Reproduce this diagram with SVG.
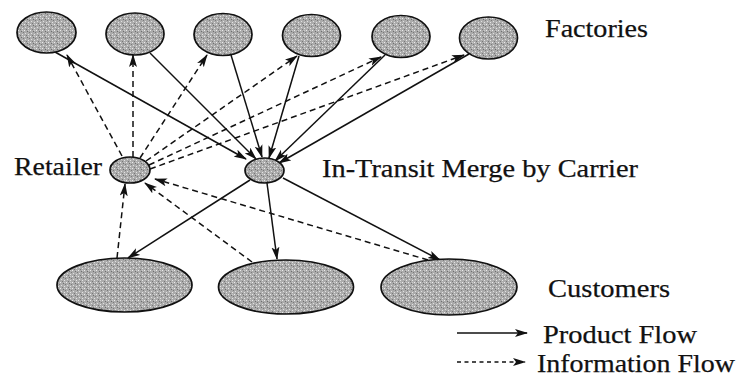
<svg xmlns="http://www.w3.org/2000/svg" width="740" height="383" viewBox="0 0 740 383">
  <style>
    .node { stroke: #111; stroke-width: 1.7; fill: url(#stipple); }
    .label { font-family: "Liberation Serif", "Times New Roman", serif; font-size: 26px; fill: #111; stroke: #111; stroke-width: 0.25; }
    .product { stroke: #111; stroke-width: 1.5; fill: none; marker-end: url(#head); }
    .info { stroke: #111; stroke-width: 1.5; fill: none; stroke-dasharray: 6 4; marker-end: url(#head); }
    .info-key { stroke-dasharray: 4 3.5; }
  </style>
  <defs>
    <!-- grainy gray fill for the nodes -->
    <pattern id="stipple" width="6" height="6" patternUnits="userSpaceOnUse">
      <rect width="6" height="6" fill="#ababab"/>
      <rect x="0" y="0" width="1" height="1" fill="#ececec"/>
      <rect x="3" y="1" width="1" height="1" fill="#6e6e6e"/>
      <rect x="1" y="3" width="1" height="1" fill="#e0e0e0"/>
      <rect x="4" y="4" width="1" height="1" fill="#e4e4e4"/>
      <rect x="5" y="2" width="1" height="1" fill="#7a7a7a"/>
      <rect x="2" y="5" width="1" height="1" fill="#787878"/>
      <rect x="4" y="0" width="1" height="1" fill="#cccccc"/>
    </pattern>
    <marker id="head" viewBox="0 0 13 9" refX="12" refY="4.5" markerWidth="13" markerHeight="9" markerUnits="userSpaceOnUse" orient="auto">
      <path d="M0,0.5 L13,4.5 L0,8.5 L3,4.5 z" fill="#111"/>
    </marker>
  </defs>

  <!-- connectors -->
  <g id="connectors">
    <!-- product flow: factories to the carrier merge point -->
    <line class="product" x1="55" y1="52" x2="246" y2="159"/>
    <line class="product" x1="150" y1="53" x2="256" y2="159"/>
    <line class="product" x1="231" y1="55" x2="262" y2="157"/>
    <line class="product" x1="299" y1="56" x2="269" y2="158"/>
    <line class="product" x1="385" y1="55" x2="275" y2="161"/>
    <line class="product" x1="469" y1="54" x2="279" y2="163"/>
    <!-- product flow: merge point to customers -->
    <line class="product" x1="250" y1="180" x2="128" y2="258"/>
    <line class="product" x1="267" y1="183" x2="277" y2="259"/>
    <line class="product" x1="283" y1="178" x2="440" y2="260"/>
    <!-- information flow: retailer to factories -->
    <line class="info" x1="122" y1="156" x2="67" y2="55"/>
    <line class="info" x1="133" y1="157" x2="133" y2="55"/>
    <line class="info" x1="140" y1="158" x2="207" y2="55"/>
    <line class="info" x1="146" y1="161" x2="297" y2="56"/>
    <line class="info" x1="149" y1="165" x2="381" y2="57"/>
    <line class="info" x1="150" y1="169" x2="464" y2="55"/>
    <!-- information flow: customers to retailer -->
    <line class="info" x1="117" y1="258" x2="125" y2="184"/>
    <line class="info" x1="252" y1="262" x2="145" y2="183"/>
    <line class="info" x1="428" y1="260" x2="155" y2="179"/>
  </g>

  <!-- factories -->
  <g id="factory-1"><ellipse class="node" cx="46.5" cy="32.5" rx="29.5" ry="20.5"/></g>
  <g id="factory-2"><ellipse class="node" cx="135" cy="34" rx="29" ry="21"/></g>
  <g id="factory-3"><ellipse class="node" cx="223" cy="34.5" rx="29" ry="21"/></g>
  <g id="factory-4"><ellipse class="node" cx="311.5" cy="35.5" rx="29" ry="21"/></g>
  <g id="factory-5"><ellipse class="node" cx="401" cy="36.5" rx="29" ry="21"/></g>
  <g id="factory-6"><ellipse class="node" cx="488.5" cy="38" rx="29" ry="21"/></g>
  <g id="factories-label"><text class="label" x="545" y="37" textLength="103" lengthAdjust="spacingAndGlyphs">Factories</text></g>

  <!-- retailer -->
  <g id="retailer">
    <ellipse class="node" cx="130" cy="170" rx="20" ry="13"/>
    <text class="label" x="14" y="175" textLength="88" lengthAdjust="spacingAndGlyphs">Retailer</text>
  </g>

  <!-- carrier merge point -->
  <g id="merge">
    <ellipse class="node" cx="264.5" cy="170.5" rx="19.5" ry="12.5"/>
    <text class="label" x="322" y="177" textLength="316" lengthAdjust="spacingAndGlyphs">In-Transit Merge by Carrier</text>
  </g>

  <!-- customers -->
  <g id="customer-1"><ellipse class="node" cx="124.5" cy="285" rx="67.5" ry="27"/></g>
  <g id="customer-2"><ellipse class="node" cx="286" cy="287" rx="67.5" ry="27"/></g>
  <g id="customer-3"><ellipse class="node" cx="449" cy="287" rx="68" ry="28"/></g>
  <g id="customers-label"><text class="label" x="548" y="297" textLength="122" lengthAdjust="spacingAndGlyphs">Customers</text></g>

  <!-- legend -->
  <g id="legend">
    <line class="product" x1="457" y1="333" x2="527" y2="333"/>
    <text class="label" x="543" y="343" textLength="154" lengthAdjust="spacingAndGlyphs">Product Flow</text>
    <line class="info info-key" x1="457" y1="362" x2="525" y2="362"/>
    <text class="label" x="537" y="372" textLength="198" lengthAdjust="spacingAndGlyphs">Information Flow</text>
  </g>
</svg>
